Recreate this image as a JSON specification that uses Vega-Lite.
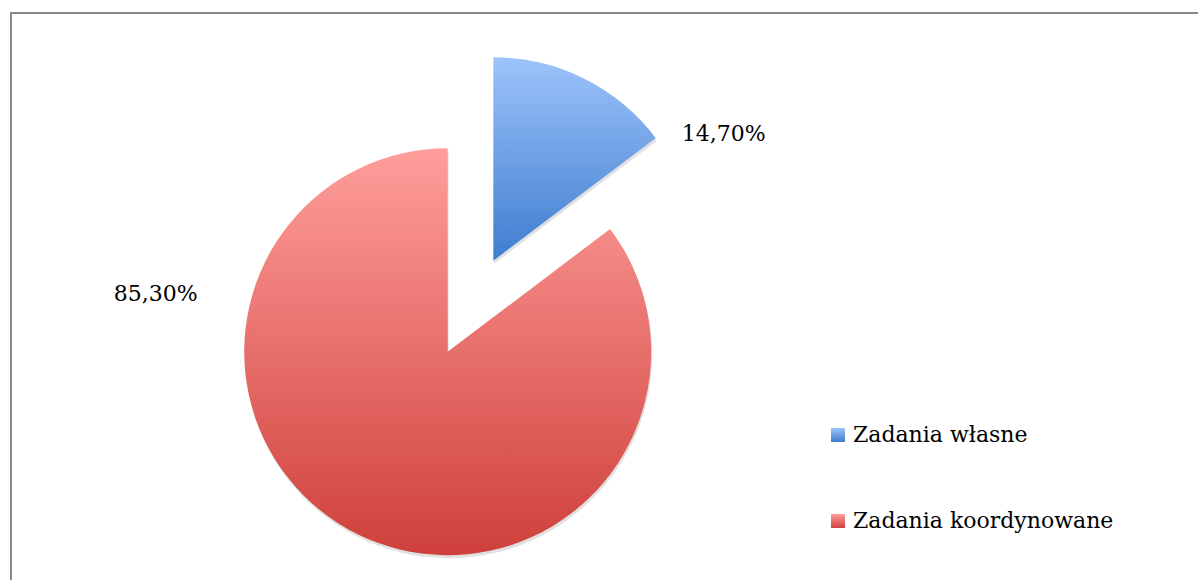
{
  "$schema": "https://vega.github.io/schema/vega-lite/v6.json",
  "width": 1200,
  "height": 580,
  "autosize": "none",
  "padding": {"left": 11, "top": 13, "right": 0, "bottom": 0},
  "background": "white",
  "view": {"stroke": "#8a8a8a", "strokeWidth": 2, "fill": "white"},
  "config": {
    "view": {"stroke": "#8a8a8a", "strokeWidth": 2},
    "font": "DejaVu Serif"
  },
  "data": {
    "values": [
      {"category": "Zadania własne", "value": 14.7, "label": "14,70%"},
      {"category": "Zadania koordynowane", "value": 85.3, "label": "85,30%"}
    ]
  },
  "layer": [
    {
      "mark": {"type": "arc", "x": 437.7, "y": 341.7, "radius": 203.5, "fill": "#000", "stroke": null},
      "encoding": {
        "theta": {"field": "value", "type": "quantitative", "stack": true},
        "order": {"field": "value", "type": "quantitative", "sort": "ascending"},
        "detail": {"field": "category"},
        "fillOpacity": {"condition": {"test": "datum.category === 'Zadania własne'", "value": 0}, "value": 0.12}
      }
    },
    {
      "mark": {"type": "arc", "x": 483.3, "y": 250.7, "radius": 203.5, "fill": "#000", "stroke": null},
      "encoding": {
        "theta": {"field": "value", "type": "quantitative", "stack": true},
        "order": {"field": "value", "type": "quantitative", "sort": "ascending"},
        "detail": {"field": "category"},
        "fillOpacity": {"condition": {"test": "datum.category === 'Zadania własne'", "value": 0.12}, "value": 0}
      }
    },
    {
      "mark": {"type": "arc", "x": 436.7, "y": 338.7, "radius": 203.5, "stroke": null},
      "encoding": {
        "theta": {"field": "value", "type": "quantitative", "stack": true},
        "order": {"field": "value", "type": "quantitative", "sort": "ascending"},
        "color": {
          "field": "category",
          "type": "nominal",
          "scale": {
            "domain": ["Zadania własne", "Zadania koordynowane"],
            "range": [
              {"expr": "{gradient: 'linear', x1: 0, y1: 0, x2: 0, y2: 1, stops: [{offset: 0, color: '#9dc3fb'}, {offset: 1, color: '#3e7dcf'}]}"},
              {"expr": "{gradient: 'linear', x1: 0, y1: 0, x2: 0, y2: 1, stops: [{offset: 0, color: '#ff9e9b'}, {offset: 1, color: '#cf403b'}]}"}
            ]
          },
          "legend": {
            "title": null,
            "orient": "none",
            "legendX": 816,
            "legendY": 411,
            "padding": 0,
            "symbolType": "square",
            "symbolSize": 196,
            "symbolStrokeWidth": 0,
            "labelFont": "DejaVu Serif",
            "labelFontSize": 22,
            "labelColor": "#000",
            "labelOffset": 4,
            "rowPadding": 64,
            "labelLimit": 400
          }
        },
        "fillOpacity": {"condition": {"test": "datum.category === 'Zadania własne'", "value": 0}, "value": 1}
      }
    },
    {
      "mark": {"type": "arc", "x": 482.3, "y": 247.7, "radius": 203.5, "stroke": null},
      "encoding": {
        "theta": {"field": "value", "type": "quantitative", "stack": true},
        "order": {"field": "value", "type": "quantitative", "sort": "ascending"},
        "color": {"field": "category", "type": "nominal"},
        "fillOpacity": {"condition": {"test": "datum.category === 'Zadania własne'", "value": 1}, "value": 0}
      }
    },
    {
      "mark": {"type": "text", "x": 482.3, "y": 247.7, "radius": 230, "dx": 128, "dy": 79, "fontSize": 22, "font": "DejaVu Serif", "color": "#000", "align": "center", "baseline": "middle"},
      "encoding": {
        "theta": {"field": "value", "type": "quantitative", "stack": true},
        "order": {"field": "value", "type": "quantitative", "sort": "ascending"},
        "detail": {"field": "category"},
        "text": {"condition": {"test": "datum.category === 'Zadania własne'", "field": "label"}, "value": ""}
      }
    },
    {
      "mark": {"type": "text", "x": 436.7, "y": 338.7, "radius": 0, "dx": -292, "dy": -58, "fontSize": 22, "font": "DejaVu Serif", "color": "#000", "align": "center", "baseline": "middle"},
      "encoding": {
        "theta": {"field": "value", "type": "quantitative", "stack": true},
        "order": {"field": "value", "type": "quantitative", "sort": "ascending"},
        "detail": {"field": "category"},
        "text": {"condition": {"test": "datum.category === 'Zadania koordynowane'", "field": "label"}, "value": ""}
      }
    }
  ]
}
